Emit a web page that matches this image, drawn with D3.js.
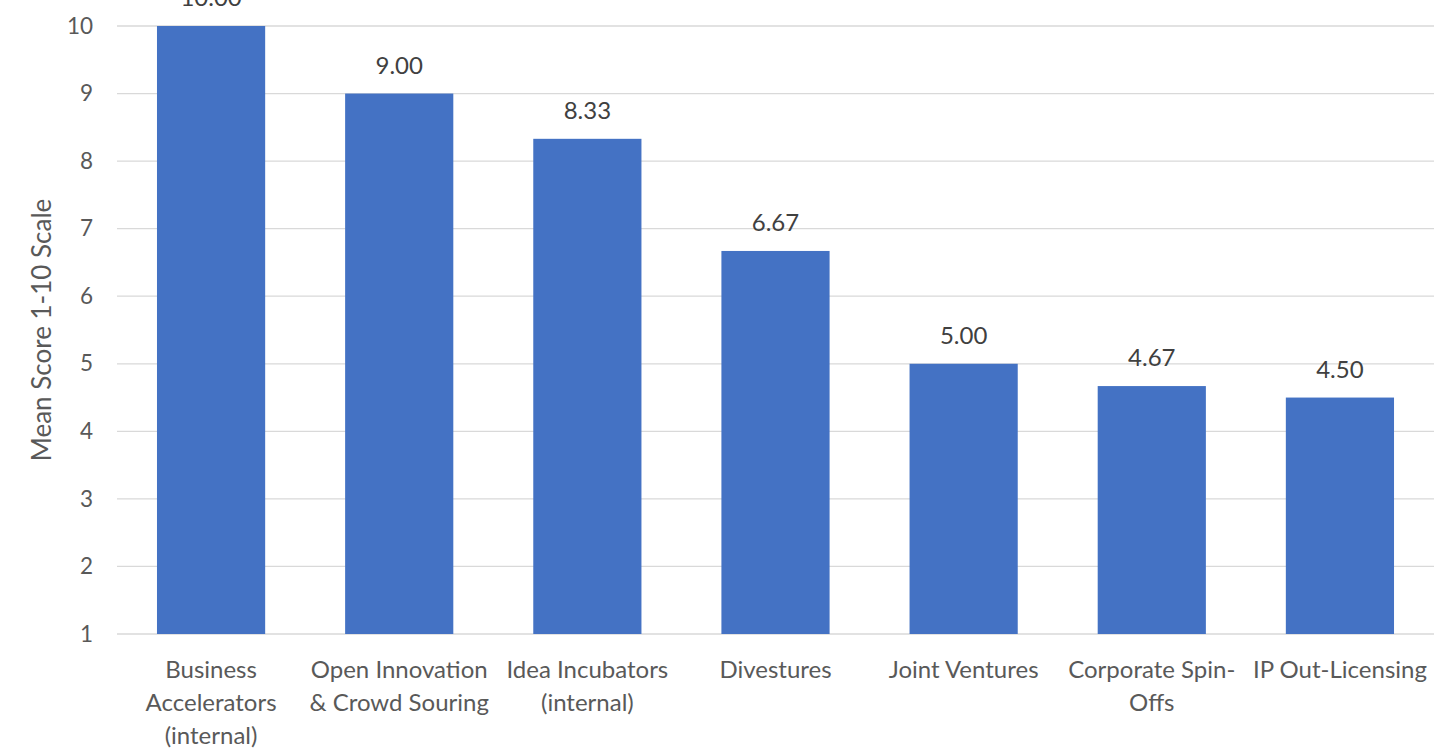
<!DOCTYPE html>
<html>
<head>
<meta charset="utf-8">
<script src="https://cdn.jsdelivr.net/npm/d3@7"></script>
<style>
  html, body { margin: 0; padding: 0; background: #fff; }
  svg { display: block; font-family: Lato, "Open Sans", "Liberation Sans", sans-serif; }
</style>
</head>
<body>
<svg id="chart" width="1453" height="749"></svg>
<script>
const categories = [
  "Business\nAccelerators\n(internal)",
  "Open Innovation\n& Crowd Souring",
  "Idea Incubators\n(internal)",
  "Divestures",
  "Joint Ventures",
  "Corporate Spin-\nOffs",
  "IP Out-Licensing"
];
const values = [10.00, 9.00, 8.33, 6.67, 5.00, 4.67, 4.50];
const yTicks = [1, 2, 3, 4, 5, 6, 7, 8, 9, 10];
const yTitle = "Mean Score 1-10 Scale";

(function () {
const svg = d3.select("#chart");
const pLeft = 117, pRight = 1434, pTop = 26, pBottom = 634;

const x = d3.scaleBand().domain(d3.range(categories.length)).range([pLeft, pRight]).paddingInner(0.425).paddingOuter(0.2125);
const y = d3.scaleLinear().domain([1, 10]).range([pBottom, pTop]);

// gridlines
svg.append("g").selectAll("line").data(yTicks).join("line")
  .attr("x1", pLeft).attr("x2", pRight)
  .attr("y1", d => y(d)).attr("y2", d => y(d))
  .attr("stroke", "#d9d9d9").attr("stroke-width", 1.3);

// y axis labels
const yAxis = d3.axisLeft(y).tickValues(yTicks).tickSize(0).tickPadding(24).tickFormat(d3.format("d"));
const ga = svg.append("g").attr("transform", `translate(${pLeft},0)`).call(yAxis);
ga.select(".domain").remove();
ga.selectAll("text").attr("font-size", 22.5).attr("fill", "#595959").attr("font-family", "Lato, 'Open Sans', sans-serif");

// bars
svg.append("g").selectAll("rect").data(values).join("rect")
  .attr("x", (d, i) => x(i)).attr("width", x.bandwidth())
  .attr("y", d => y(d)).attr("height", d => y(1) - y(d))
  .attr("fill", "#4472c4");

// data labels
svg.append("g").selectAll("text").data(values).join("text")
  .attr("x", (d, i) => x(i) + x.bandwidth() / 2)
  .attr("y", d => y(d) - 20)
  .attr("text-anchor", "middle")
  .attr("font-size", 24).attr("fill", "#404040")
  .text(d => d.toFixed(2));

// category labels
const cg = svg.append("g");
categories.forEach((c, i) => {
  const t = cg.append("text")
    .attr("x", x(i) + x.bandwidth() / 2)
    .attr("y", 678)
    .attr("text-anchor", "middle")
    .attr("font-size", 24).attr("fill", "#595959");
  c.split("\n").forEach((line, j) => {
    t.append("tspan").attr("x", x(i) + x.bandwidth() / 2).attr("dy", j === 0 ? 0 : 33).text(line);
  });
});

// y title
svg.append("text")
  .attr("transform", `translate(51, ${(pTop + pBottom) / 2}) rotate(-90)`)
  .attr("text-anchor", "middle")
  .attr("font-size", 26).attr("fill", "#595959")
  .text(yTitle);
})();
</script>
</body>
</html>
